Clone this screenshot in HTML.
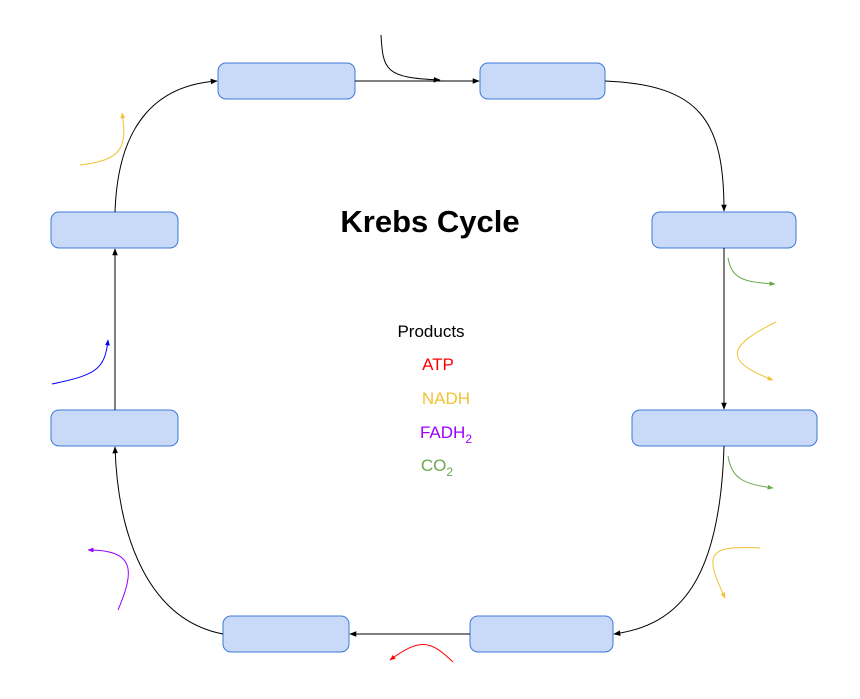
<!DOCTYPE html>
<html><head><meta charset="utf-8"><style>
html,body{margin:0;padding:0;background:#fff;}
svg{display:block;font-family:"Liberation Sans",Arial,sans-serif;}
</style></head><body>
<svg width="860" height="699" viewBox="0 0 860 699">
<defs>
<marker id="mk" viewBox="0 0 10 10" refX="9" refY="5" markerWidth="7" markerHeight="7" orient="auto"><path d="M0,1 L10,5 L0,9 z" fill="#000"/></marker>
<marker id="my" viewBox="0 0 10 10" refX="9" refY="5" markerWidth="6" markerHeight="6" orient="auto"><path d="M0,1 L10,5 L0,9 z" fill="#f1c232"/></marker>
<marker id="mg" viewBox="0 0 10 10" refX="9" refY="5" markerWidth="6" markerHeight="6" orient="auto"><path d="M0,1 L10,5 L0,9 z" fill="#6aa84f"/></marker>
<marker id="mb" viewBox="0 0 10 10" refX="9" refY="5" markerWidth="6" markerHeight="6" orient="auto"><path d="M0,1 L10,5 L0,9 z" fill="#0000ff"/></marker>
<marker id="mp" viewBox="0 0 10 10" refX="9" refY="5" markerWidth="6" markerHeight="6" orient="auto"><path d="M0,1 L10,5 L0,9 z" fill="#9900ff"/></marker>
<marker id="mr" viewBox="0 0 10 10" refX="9" refY="5" markerWidth="6" markerHeight="6" orient="auto"><path d="M0,1 L10,5 L0,9 z" fill="#ff0000"/></marker>
</defs>
<g fill="#c9daf8" stroke="#3c78d8" stroke-width="1">
<rect x="218" y="63" width="137" height="36" rx="8"/>
<rect x="480" y="63" width="125" height="36" rx="8"/>
<rect x="652" y="212" width="144" height="36" rx="8"/>
<rect x="632" y="410" width="185" height="36" rx="8"/>
<rect x="470" y="616" width="143" height="36" rx="8"/>
<rect x="223" y="616" width="126" height="36" rx="8"/>
<rect x="51" y="410" width="127" height="36" rx="8"/>
<rect x="51" y="212" width="127" height="36" rx="8"/>
</g>
<g fill="none" stroke="#000" stroke-width="1" marker-end="url(#mk)">
<path d="M355,81 L479,81"/>
<path d="M605,81 C700,85 724,120 724,211"/>
<path d="M724,248 L724,409"/>
<path d="M724,446 C720,580 680,625 614,634"/>
<path d="M470,634 L350,634"/>
<path d="M223,634 C150,620 118,540 115,447"/>
<path d="M115,410 L115,249"/>
<path d="M115,212 C118,120 160,85 217,81"/>
<path d="M381,35 C383,70 385,78 440,80"/>
</g>
<g fill="none" stroke-width="1">
<path stroke="#f1c232" marker-end="url(#my)" d="M80,165 C120,160 128,150 122,113"/>
<path stroke="#6aa84f" marker-end="url(#mg)" d="M728,258 C732,280 745,282 775,284"/>
<path stroke="#f1c232" marker-end="url(#my)" d="M776,322 C730,345 720,360 773,380"/>
<path stroke="#0000ff" marker-end="url(#mb)" d="M52,384 C95,375 105,370 108,340"/>
<path stroke="#6aa84f" marker-end="url(#mg)" d="M728,456 C732,480 745,484 773,488"/>
<path stroke="#f1c232" marker-end="url(#my)" d="M760,548 C705,545 705,555 725,598"/>
<path stroke="#9900ff" marker-end="url(#mp)" d="M118,610 C135,570 135,550 88,550"/>
<path stroke="#ff0000" marker-end="url(#mr)" d="M453,662 C430,640 420,638 390,660"/>
</g>
<text x="430" y="232" text-anchor="middle" font-size="31" font-weight="bold" fill="#000">Krebs Cycle</text>
<g font-size="17" text-anchor="middle">
<text x="431" y="337" fill="#000">Products</text>
<text x="438" y="370" fill="#ff0000">ATP</text>
<text x="446" y="404" fill="#f1c232">NADH</text>
<text x="446" y="438" fill="#9900ff">FADH<tspan font-size="12" dy="5">2</tspan></text>
<text x="437" y="471" fill="#6aa84f">CO<tspan font-size="12" dy="5">2</tspan></text>
</g>
</svg>
</body></html>
